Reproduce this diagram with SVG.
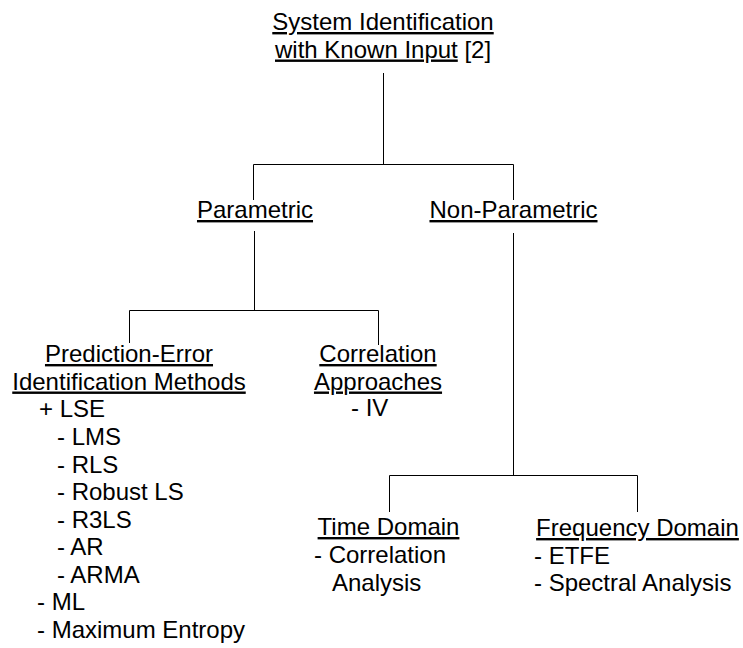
<svg xmlns="http://www.w3.org/2000/svg" width="743" height="648" viewBox="0 0 743 648">
<style>
text{font-family:"Liberation Sans",Arial,Helvetica,sans-serif;font-size:24px;fill:#000}
.u{text-decoration:underline}
.m{text-anchor:middle}
.c{fill:none;stroke:#000;stroke-width:1}
</style>
<rect width="743" height="648" fill="#fff"/>
<g id="connectors" class="c">
<path d="M383.5 73V164.5"/>
<path d="M253.5 200V164.5H513.5V200"/>
<path d="M254.5 231V310.5"/>
<path d="M129.5 343V310.5H378.5V345"/>
<path d="M513.5 233V475.5"/>
<path d="M389.5 512V475.5H637.5V512"/>
</g>
<g id="root">
<text class="m u" x="383" y="30">System Identification</text>
<text x="275" y="57.5"><tspan class="u">with Known Input</tspan> [2]</text>
</g>
<g id="parametric">
<text class="m u" x="255" y="218">Parametric</text>
</g>
<g id="non-parametric">
<text class="m u" x="513.5" y="218">Non-Parametric</text>
</g>
<g id="prediction-error">
<text class="m u" x="129" y="362">Prediction-Error</text>
<text class="m u" x="129" y="389.5">Identification Methods</text>
<text x="39" y="417">+ LSE</text>
<text x="57" y="445">- LMS</text>
<text x="57" y="472.5">- RLS</text>
<text x="57" y="500">- Robust LS</text>
<text x="57" y="527.5">- R3LS</text>
<text x="57" y="555">- AR</text>
<text x="57" y="582.5">- ARMA</text>
<text x="37" y="610">- ML</text>
<text x="37" y="637.5">- Maximum Entropy</text>
</g>
<g id="correlation">
<text class="m u" x="378" y="362">Correlation</text>
<text class="m u" x="378" y="389.5">Approaches</text>
<text x="351" y="416">- IV</text>
</g>
<g id="time-domain">
<text class="m u" x="388.5" y="535">Time Domain</text>
<text x="314" y="563">- Correlation</text>
<text x="332" y="590.5">Analysis</text>
</g>
<g id="frequency-domain">
<text class="m u" x="637.5" y="536">Frequency Domain</text>
<text x="534" y="563.5">- ETFE</text>
<text x="534" y="591">- Spectral Analysis</text>
</g>
</svg>
